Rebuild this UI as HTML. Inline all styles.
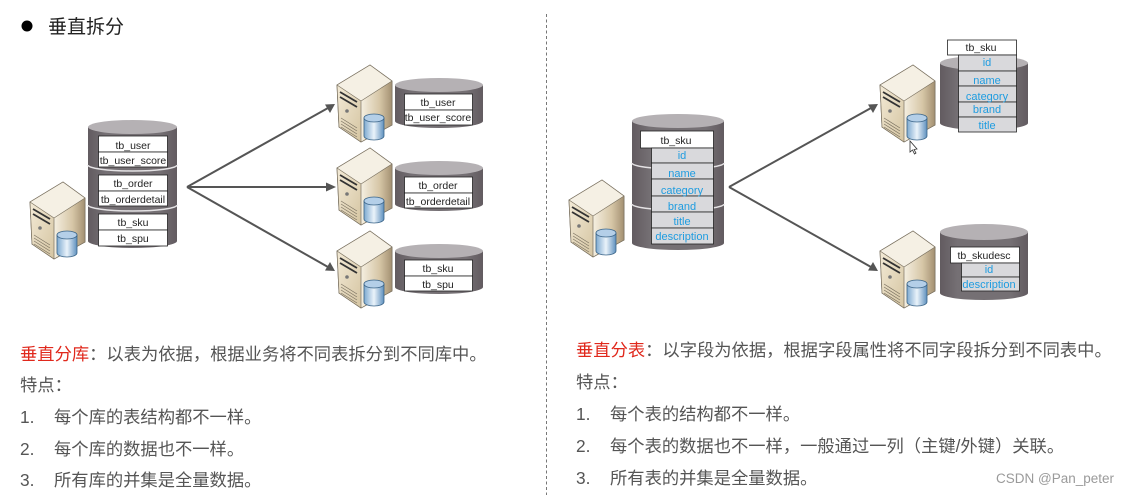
<!DOCTYPE html>
<html lang="zh">
<head>
<meta charset="utf-8">
<title>垂直拆分</title>
<style>
html,body{margin:0;padding:0;background:#fff;width:1131px;height:495px;overflow:hidden}
svg{display:block;filter:blur(.35px)}
text{font-family:"Liberation Sans","Noto Sans CJK SC",sans-serif}
.t{font-size:10.5px;fill:#222;text-anchor:middle}
.f{font-size:11px;fill:#1e9ce0;text-anchor:middle}
.b{font-size:17.3px;fill:#555}
</style>
</head>
<body>
<svg width="1131" height="495" viewBox="0 0 1131 495" xmlns="http://www.w3.org/2000/svg">
<defs>
<linearGradient id="front" x1="0" y1="0" x2="1" y2="1"><stop offset="0" stop-color="#f3ead6"/><stop offset="1" stop-color="#d5c5a2"/></linearGradient>
<linearGradient id="side" x1="0" y1="0" x2="1" y2="0"><stop offset="0" stop-color="#f5efe1"/><stop offset="0.6" stop-color="#d6c6a6"/><stop offset="1" stop-color="#a39072"/></linearGradient>
<linearGradient id="blue" x1="0" y1="0" x2="1" y2="0"><stop offset="0" stop-color="#7da9d0"/><stop offset="0.5" stop-color="#eaf3fa"/><stop offset="1" stop-color="#5e90be"/></linearGradient>
<linearGradient id="cyl" x1="0" y1="0" x2="1" y2="0"><stop offset="0" stop-color="#625b60"/><stop offset="0.2" stop-color="#757074"/><stop offset="0.8" stop-color="#757074"/><stop offset="1" stop-color="#625b60"/></linearGradient>
<g id="server">
<path d="M0 20 L33 0 L55 16 L55 60 L24 77 L2 62 Z" fill="#f4eee0" stroke="#7b7261" stroke-width=".8"/>
<path d="M0 20 L33 0 L55 16 L24 36 Z" fill="#f5f0e4"/>
<path d="M24 36 L55 16 L55 60 L24 77 Z" fill="url(#side)"/>
<path d="M0 20 L24 36 L24 77 L2 62 Z" fill="url(#front)"/>
<path d="M0 20 L33 0 L55 16 L55 60 L24 77 L2 62 Z M0 20 L24 36 L55 16 M24 36 V77" fill="none" stroke="#7b7261" stroke-width=".7"/>
<path d="M3 27 L20 37 M3 32 L20 42" stroke="#333" stroke-width="1.800"/>
<circle cx="10" cy="46" r="1.800" fill="#777"/>
<path d="M4 53 L20 63 M4 56 L20 66 M4 59 L20 69 M4 62 L20 72" stroke="#7b7261" stroke-width=".7"/>
<path d="M27 53 V71 A10 4 0 0 0 47 71 V53 Z" fill="url(#blue)" stroke="#3a6488" stroke-width=".8"/>
<ellipse cx="37" cy="53" rx="10" ry="4" fill="#b4cfe8" stroke="#3a6488" stroke-width=".8"/>
</g>
</defs>

<circle cx="27" cy="26" r="5.500" fill="#000"/>
<text x="48" y="33" style="font-size:19px;fill:#222">垂直拆分</text>
<line x1="546.500" y1="14" x2="546.500" y2="495" stroke="#777" stroke-dasharray="3 2.500"/>

<!-- left source -->
<use href="#server" x="30" y="182"/>
<path d="M88 127 V241 A44.500 7 0 0 0 177 241 V127 Z" fill="url(#cyl)"/>
<ellipse cx="132.500" cy="127" rx="44.500" ry="7" fill="#b5b1b4"/>
<path d="M88 165 A44.500 6 0 0 0 177 165 M88 205 A44.500 6 0 0 0 177 205" fill="none" stroke="#e4e2e4" stroke-width="1.500"/>
<g fill="#fff" stroke="#222" stroke-width=".8">
<rect x="98.500" y="136" width="69" height="16"/><rect x="98.500" y="152" width="69" height="15"/>
<rect x="98.500" y="175" width="69" height="16"/><rect x="98.500" y="191" width="69" height="15"/>
<rect x="98.500" y="214" width="69" height="16"/><rect x="98.500" y="230" width="69" height="16"/>
</g>
<text class="t" x="133" y="149">tb_user</text><text class="t" x="133" y="164">tb_user_score</text>
<text class="t" x="133" y="187">tb_order</text><text class="t" x="133" y="203">tb_orderdetail</text>
<text class="t" x="133" y="226">tb_sku</text><text class="t" x="133" y="242">tb_spu</text>

<!-- left arrows -->
<g stroke="#555" stroke-width="2" fill="#555">
<line x1="187" y1="187" x2="328" y2="108"/>
<line x1="187" y1="187" x2="328" y2="187"/>
<line x1="187" y1="187" x2="328" y2="267"/>
</g>
<g fill="#555">
<path d="M335 104 L325 104.500 L330 113 Z"/>
<path d="M336 187 L326 182.500 L326 191.500 Z"/>
<path d="M335 271 L330 262 L325 270.500 Z"/>
</g>

<!-- left targets -->
<use href="#server" x="337" y="65"/>
<use href="#server" x="337" y="148"/>
<use href="#server" x="337" y="231"/>
<path d="M395 85 V121 A44 7 0 0 0 483 121 V85 Z" fill="url(#cyl)"/>
<ellipse cx="439" cy="85" rx="44" ry="7" fill="#b5b1b4"/>
<path d="M395 168 V204 A44 7 0 0 0 483 204 V168 Z" fill="url(#cyl)"/>
<ellipse cx="439" cy="168" rx="44" ry="7" fill="#b5b1b4"/>
<path d="M395 251 V287 A44 7 0 0 0 483 287 V251 Z" fill="url(#cyl)"/>
<ellipse cx="439" cy="251" rx="44" ry="7" fill="#b5b1b4"/>
<g fill="#fff" stroke="#222" stroke-width=".8">
<rect x="404.500" y="94" width="68" height="16"/><rect x="404.500" y="110" width="68" height="15"/>
<rect x="404.500" y="177" width="68" height="16"/><rect x="404.500" y="193" width="68" height="15"/>
<rect x="404.500" y="260" width="68" height="16"/><rect x="404.500" y="276" width="68" height="15"/>
</g>
<text class="t" x="438" y="106">tb_user</text><text class="t" x="438" y="121">tb_user_score</text>
<text class="t" x="438" y="189">tb_order</text><text class="t" x="438" y="205">tb_orderdetail</text>
<text class="t" x="438" y="272">tb_sku</text><text class="t" x="438" y="288">tb_spu</text>

<!-- right source -->
<use href="#server" x="569" y="180"/>
<path d="M632 121 V243 A46 7 0 0 0 724 243 V121 Z" fill="url(#cyl)"/>
<ellipse cx="678" cy="121" rx="46" ry="7" fill="#b5b1b4"/>
<path d="M632 163 A46 6 0 0 0 724 163 M632 204 A46 6 0 0 0 724 204" fill="none" stroke="#e4e2e4" stroke-width="1.500"/>
<rect x="640.500" y="131" width="73" height="17" fill="#fff" stroke="#222" stroke-width=".8"/>
<g fill="#d9d9dc" stroke="#222" stroke-width=".8">
<rect x="651.500" y="148" width="62" height="15"/><rect x="651.500" y="163" width="62" height="16"/>
<rect x="651.500" y="179" width="62" height="17"/><rect x="651.500" y="196" width="62" height="16"/>
<rect x="651.500" y="212" width="62" height="16"/><rect x="651.500" y="228" width="62" height="16"/>
</g>
<text class="t" x="676" y="144">tb_sku</text>
<text class="f" x="682" y="159">id</text><text class="f" x="682" y="177">name</text>
<text class="f" x="682" y="194">category</text><text class="f" x="682" y="210">brand</text>
<text class="f" x="682" y="225">title</text><text class="f" x="682" y="240">description</text>

<!-- right arrows -->
<g stroke="#555" stroke-width="2">
<line x1="729" y1="187" x2="871" y2="108"/>
<line x1="729" y1="187" x2="871" y2="267"/>
</g>
<g fill="#555">
<path d="M878 104 L868 104.500 L873 113 Z"/>
<path d="M878 271 L873 262 L868 270.500 Z"/>
</g>

<!-- right targets -->
<use href="#server" x="880" y="65"/>
<use href="#server" x="880" y="231"/>
<path d="M940 63 V123 A44 7 0 0 0 1028 123 V63 Z" fill="url(#cyl)"/>
<ellipse cx="984" cy="63" rx="44" ry="7" fill="#b5b1b4"/>
<rect x="947.500" y="40" width="69" height="15" fill="#fff" stroke="#222" stroke-width=".8"/>
<g fill="#d9d9dc" stroke="#222" stroke-width=".8">
<rect x="958.500" y="55" width="58" height="16"/><rect x="958.500" y="71" width="58" height="15"/>
<rect x="958.500" y="86" width="58" height="16"/><rect x="958.500" y="102" width="58" height="15"/>
<rect x="958.500" y="117" width="58" height="15"/>
</g>
<text class="t" x="981" y="51">tb_sku</text>
<text class="f" x="987" y="66">id</text><text class="f" x="987" y="84">name</text>
<text class="f" x="987" y="100">category</text><text class="f" x="987" y="113">brand</text>
<text class="f" x="987" y="129">title</text>

<path d="M940 232 V293 A44 7 0 0 0 1028 293 V232 Z" fill="url(#cyl)"/>
<ellipse cx="984" cy="232" rx="44" ry="8" fill="#b5b1b4"/>
<rect x="950.500" y="247" width="69" height="16" fill="#fff" stroke="#222" stroke-width=".8"/>
<g fill="#d9d9dc" stroke="#222" stroke-width=".8">
<rect x="961.500" y="263" width="58" height="14"/><rect x="961.500" y="277" width="58" height="14"/>
</g>
<text class="t" x="984" y="259">tb_skudesc</text>
<text class="f" x="989" y="273">id</text><text class="f" x="989" y="288">description</text>

<!-- cursor -->
<path d="M910 141 V152 L912.500 150 L914.500 154 L916 153 L914 149.500 L917 149 Z" fill="#fff" stroke="#333" stroke-width=".8"/>

<!-- left text -->
<text class="b" x="20" y="360"><tspan fill="#e0281c">垂直分库</tspan>&#xFF1A;以表为依据&#xFF0C;根据业务将不同表拆分到不同库中。</text>
<text class="b" x="20" y="391">特点&#xFF1A;</text>
<text class="b" x="20" y="423">1.</text><text class="b" x="54" y="423">每个库的表结构都不一样。</text>
<text class="b" x="20" y="455">2.</text><text class="b" x="54" y="455">每个库的数据也不一样。</text>
<text class="b" x="20" y="486">3.</text><text class="b" x="54" y="486">所有库的并集是全量数据。</text>

<!-- right text -->
<text class="b" x="576" y="356"><tspan fill="#e0281c">垂直分表</tspan>&#xFF1A;以字段为依据&#xFF0C;根据字段属性将不同字段拆分到不同表中。</text>
<text class="b" x="576" y="388">特点&#xFF1A;</text>
<text class="b" x="576" y="420">1.</text><text class="b" x="610" y="420">每个表的结构都不一样。</text>
<text class="b" x="576" y="452">2.</text><text class="b" x="610" y="452">每个表的数据也不一样&#xFF0C;一般通过一列&#xFF08;主键/外键&#xFF09;关联。</text>
<text class="b" x="576" y="484">3.</text><text class="b" x="610" y="484">所有表的并集是全量数据。</text>

<text x="996" y="483" style="font-size:13.5px;fill:#9a9a9a">CSDN @Pan_peter</text>
</svg>
</body>
</html>
